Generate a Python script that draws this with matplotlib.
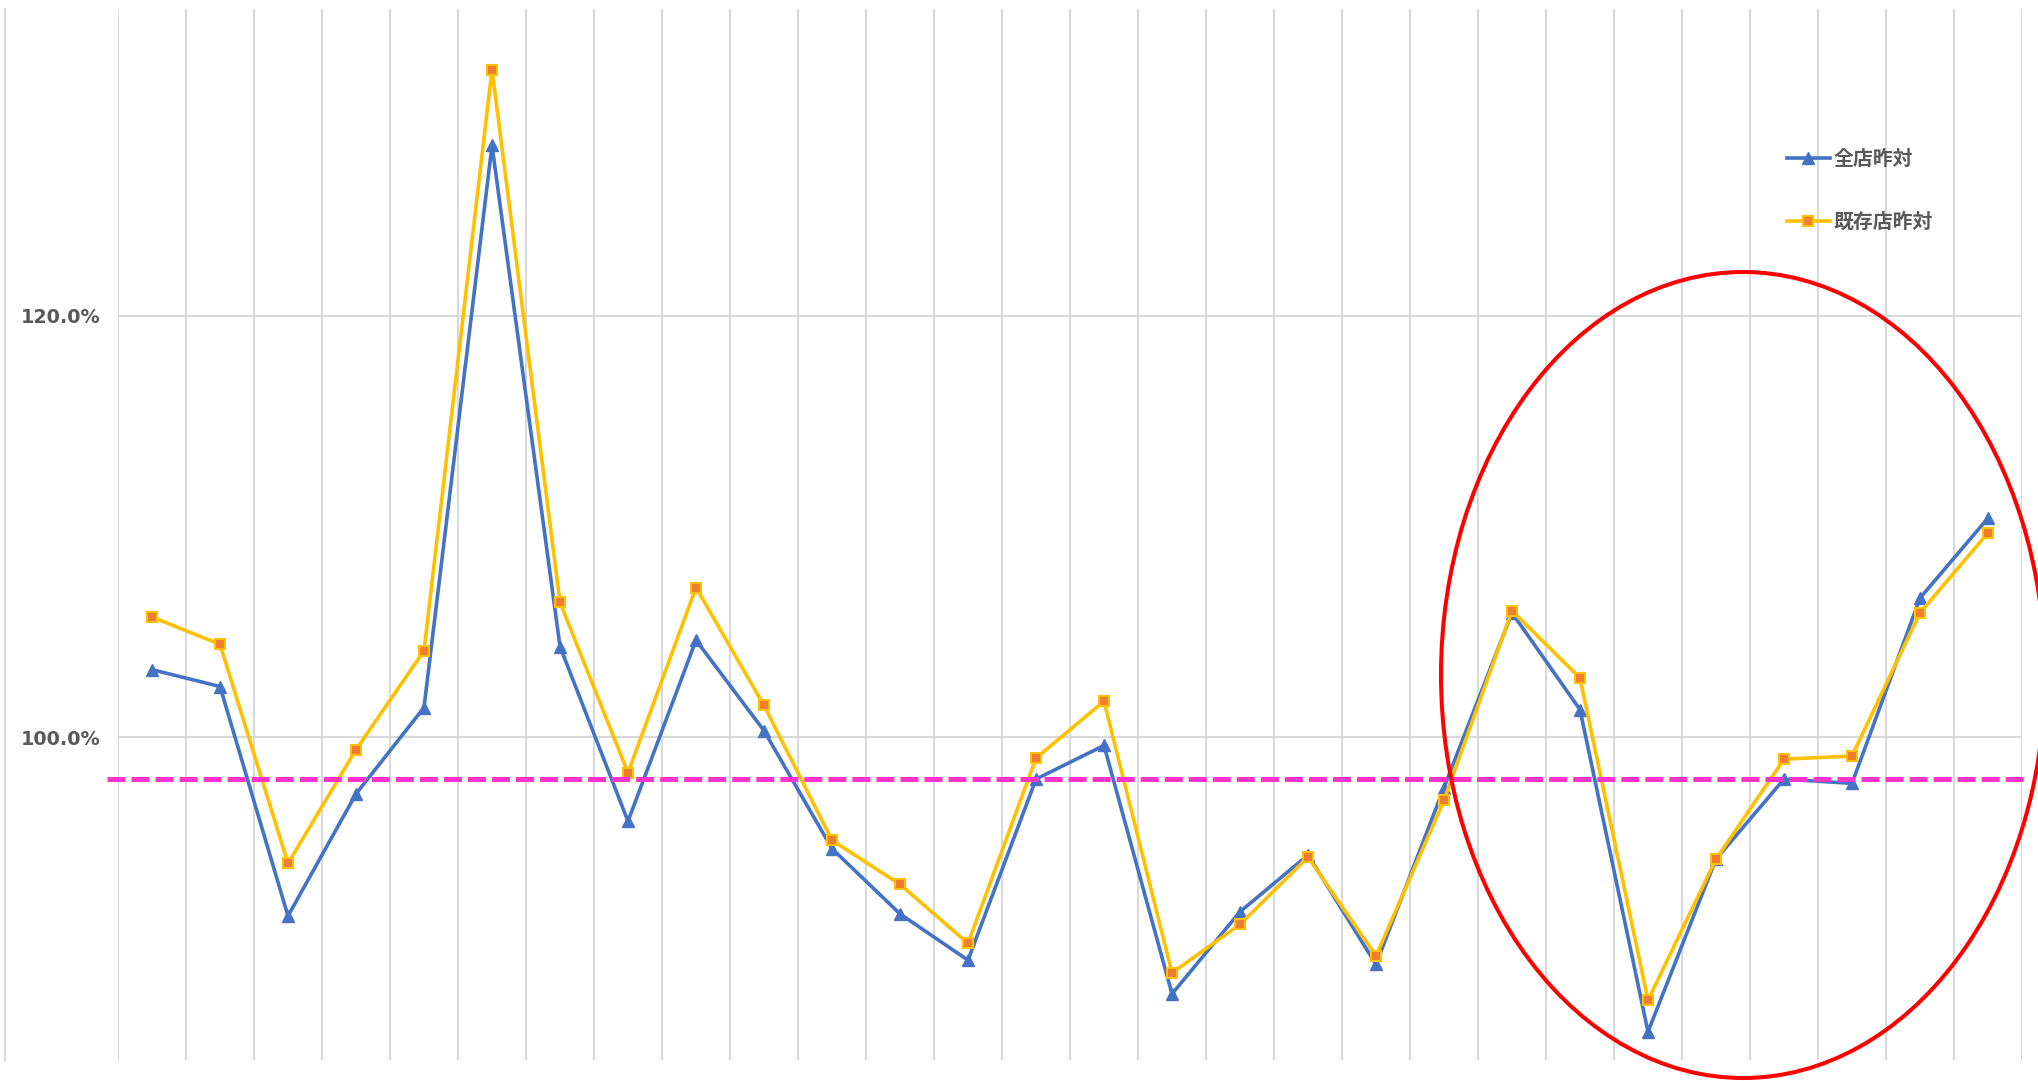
import matplotlib
matplotlib.use("Agg")
import matplotlib.pyplot as plt
from matplotlib.patches import Ellipse
from matplotlib.lines import Line2D
from matplotlib.transforms import blended_transform_factory

plt.rcParams["font.family"] = ["Noto Sans CJK JP", "DejaVu Sans"]
plt.rcParams["lines.scale_dashes"] = False

# 昨対比 (%), 28 periods
all_stores = [103.2, 102.4, 91.5, 97.3, 101.4, 128.1, 104.3, 96.0, 104.6, 100.3,
              94.7, 91.6, 89.4, 98.0, 99.6, 87.8, 91.7, 94.4, 89.2, 97.6,
              105.9, 101.3, 86.0, 94.2, 98.0, 97.8, 106.6, 110.4]
existing_stores = [105.7, 104.4, 94.0, 99.4, 104.1, 131.7, 106.4, 98.3, 107.1, 101.5,
                   95.1, 93.0, 90.2, 99.0, 101.7, 88.8, 91.1, 94.3, 89.6, 97.0,
                   106.0, 102.8, 87.5, 94.2, 98.95, 99.1, 105.9, 109.7]
series_labels = ["全店昨対", "既存店昨対"]
target_line = 98.0
y_ticks = [100.0, 120.0]
y_tick_labels = ["100.0%", "120.0%"]

W, H = 2038, 1081
fig = plt.figure(figsize=(W / 100, H / 100), dpi=100)
fig.patch.set_facecolor("white")
ax = fig.add_axes([118 / W, (H - 1060) / H, (2022 - 118) / W, (1060 - 9) / H])

n = len(all_stores)
x = list(range(n))
ax.plot(x, all_stores, color="#4472C4", lw=2.6, marker="^", markersize=8,
        markerfacecolor="#4472C4", markeredgecolor="#4472C4", label=series_labels[0], zorder=3)
ax.plot(x, existing_stores, color="#FFC000", lw=2.6, marker="s", markersize=7,
        markerfacecolor="#ED7D31", markeredgecolor="#FFC000", markeredgewidth=1.5,
        label=series_labels[1], zorder=4)

ax.set_xlim(-0.5, n - 0.5)
ax.set_ylim(84.66, 134.58)
ax.set_xticks([i - 0.5 for i in range(n + 1)])
ax.set_xticklabels([])
ax.set_yticks(y_ticks)
ax.set_yticklabels(y_tick_labels)
ax.tick_params(length=0)
ax.tick_params(axis="y", pad=12.5, labelsize=13.8, labelcolor="#595959")
for lab in ax.get_yticklabels():
    lab.set_fontweight("bold")
    lab.set_family("DejaVu Sans")
ax.grid(True, color="#D9D9D9", lw=1.5, zorder=0)
ax.set_axisbelow(True)
for s in ax.spines.values():
    s.set_visible(False)

# target dashed line (extends slightly left of the plot area)
tr = blended_transform_factory(fig.transFigure, ax.transData)
ax.add_line(Line2D([107 / W, 2028 / W], [target_line, target_line], transform=tr,
                   color="#FF33CC", lw=3.6, dashes=[13, 4.3], clip_on=False, zorder=5))

# far-left border line
fig.add_artist(Line2D([4.5 / W, 4.5 / W], [1 - 9 / H, 1 - 1060 / H],
                      transform=fig.transFigure, color="#D9D9D9", lw=1.5))

# red highlight ellipse
fig.add_artist(Ellipse((1743 / W, 1 - 675 / H), 604 / W, 806 / H,
                       transform=fig.transFigure, fill=False, edgecolor="#FF0000",
                       lw=2.9, zorder=10))

leg = ax.legend(loc="upper left", bbox_to_anchor=(1769 / W, 1 - 130 / H),
                bbox_transform=fig.transFigure, frameon=False, fontsize=14.3,
                handlelength=2.16, handletextpad=0.2, labelspacing=2.1)
for t in leg.get_texts():
    t.set_color("#595959")
    t.set_fontweight("bold")

fig.savefig("out.png", dpi=100, facecolor="white")
